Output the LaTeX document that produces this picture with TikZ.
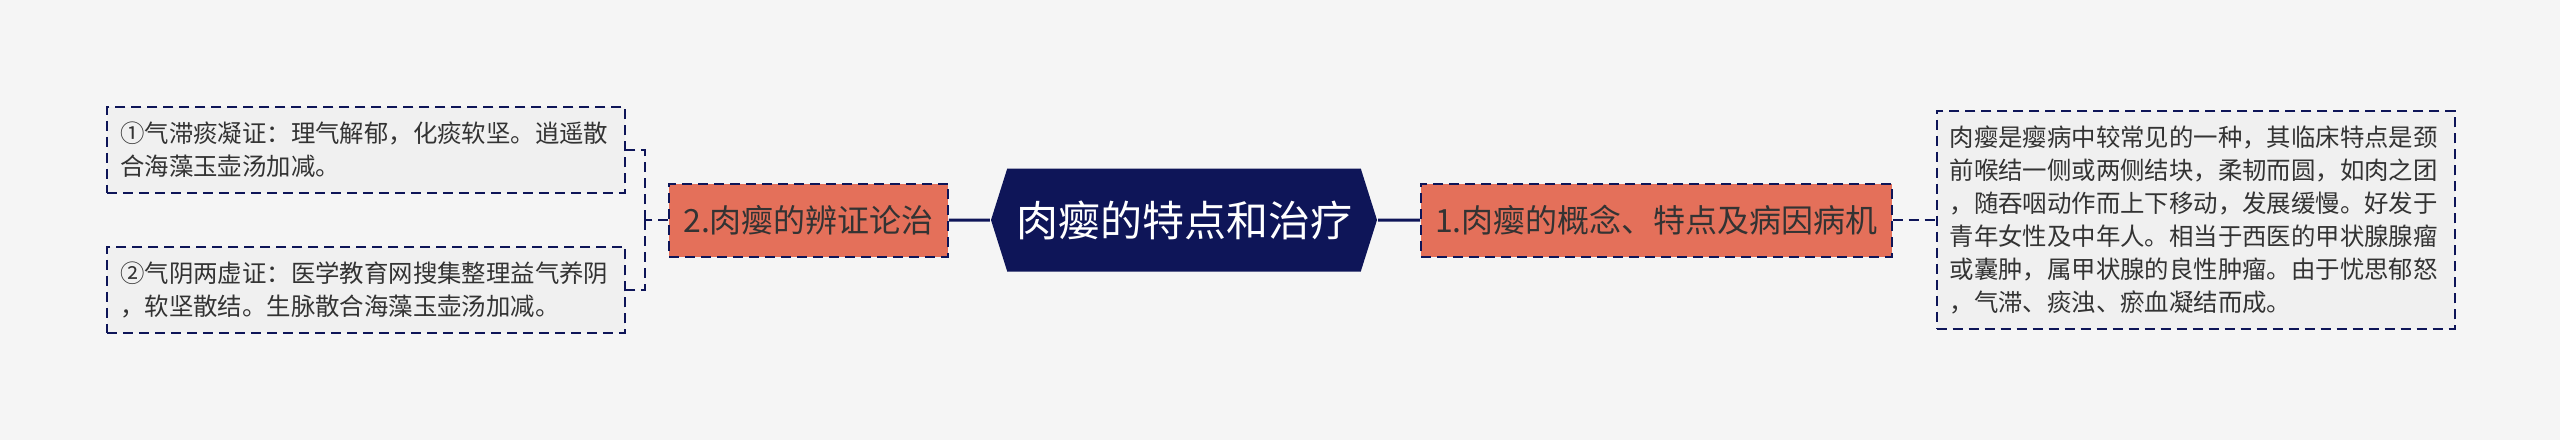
\documentclass[tikz,border=0pt]{standalone}
\usepackage{fontspec}
\newfontfamily\cjk{Noto Sans CJK SC}
\usetikzlibrary{positioning,shapes.symbols}
\definecolor{navy}{HTML}{0E1558}
\definecolor{salmon}{HTML}{E4705A}
\definecolor{paper}{HTML}{F5F5F5}
\definecolor{leafbg}{HTML}{F0F0F0}
\definecolor{ink}{HTML}{333333}

\begin{document}
\begin{tikzpicture}[x=0.5pt,y=-0.5pt,line width=1pt,
  dashbox/.style={draw=navy,dash pattern=on 5pt off 3pt},
  hub/.style={signal,signal to=east and west,signal pointer angle=145,fill=navy,text=white,
    font=\cjk\fontsize{21pt}{25pt}\selectfont,minimum width=193pt,minimum height=51.5pt,inner sep=0pt},
  topic/.style={dashbox,fill=salmon,text=ink,font=\cjk\fontsize{16pt}{19pt}\selectfont,
    minimum height=36.5pt,inner xsep=7pt},
  leaf/.style={dashbox,fill=leafbg,text=ink,font=\cjk\fontsize{12.2pt}{16.5pt}\selectfont,
    align=left,text width=246pt,inner xsep=6.5pt,inner ysep=7.6pt},
  link/.style={draw=navy,dash pattern=on 5pt off 3pt}]
\fill[paper] (0,0) rectangle (2560,440);

\node[hub] (hub) at (1184,220) {肉瘿的特点和治疗};
\node[topic,left=20.5pt of hub] (bianzheng) {2.肉瘿的辨证论治};
\node[topic,right=21pt of hub] (gainian) {1.肉瘿的概念、特点及病因病机};

\node[leaf,right=21.5pt of gainian] (tedian) {肉瘿是瘿病中较常见的一种，其临床特点是颈\\前喉结一侧或两侧结块，柔韧而圆，如肉之团\\，随吞咽动作而上下移动，发展缓慢。好发于\\青年女性及中年人。相当于西医的甲状腺腺瘤\\或囊肿，属甲状腺的良性肿瘤。由于忧思郁怒\\，气滞、痰浊、瘀血凝结而成。};

\node[leaf,left=21pt of bianzheng,yshift=35pt] (qizhi) {①气滞痰凝证：理气解郁，化痰软坚。逍遥散\\合海藻玉壶汤加减。};
\node[leaf,left=21pt of bianzheng,yshift=-35pt] (qiyin) {②气阴两虚证：医学教育网搜集整理益气养阴\\，软坚散结。生脉散合海藻玉壶汤加减。};

\coordinate[left=11.5pt of bianzheng.west] (brk);

\draw[navy,line width=1.5pt] (hub) -- (bianzheng);
\draw[navy,line width=1.5pt] (hub) -- (gainian);
\draw[link] (gainian) -- (tedian);
\draw[link] (bianzheng.west) -- (brk);
\draw[link] (brk) |- (qizhi.east);
\draw[link] (brk) |- (qiyin.east);
\end{tikzpicture}
\end{document}
